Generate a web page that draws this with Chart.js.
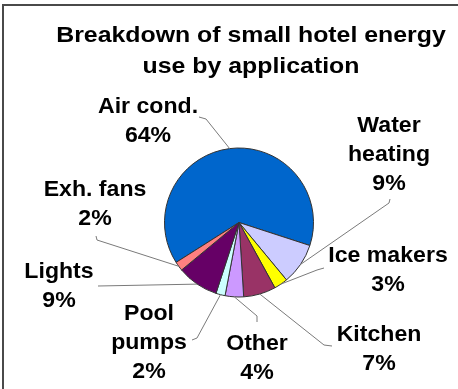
<!DOCTYPE html>
<html>
<head>
<meta charset="utf-8">
<script src="https://cdn.jsdelivr.net/npm/chart.js@4.4.1/dist/chart.umd.min.js"></script>
<style>
  html, body { margin: 0; padding: 0; background: #fff; }
</style>
</head>
<body>
<canvas id="pie" width="458" height="389"></canvas>
<script>
// --- DATA ---
const TITLE_LINES = ['Breakdown of small hotel energy', 'use by application'];
const CATEGORIES = ['Air cond.', 'Water heating', 'Ice makers', 'Kitchen', 'Other', 'Pool pumps', 'Lights', 'Exh. fans'];
const SHARES = [64, 9, 3, 7, 4, 2, 9, 2];
// how each category name is broken over lines in the callouts
const LABEL_LINES = [['Air cond.'], ['Water', 'heating'], ['Ice makers'], ['Kitchen'], ['Other'], ['Pool', 'pumps'], ['Lights'], ['Exh. fans']];

// --- STYLE / LAYOUT ---
const SLICE_COLORS = ['#0066CC', '#CCCCFF', '#FFFF00', '#993366', '#CC99FF', '#CCFFFF', '#660066', '#FF8080'];
const FONT = '"Liberation Sans", Arial, sans-serif';
const LINE_GAP = 29;
// callout text anchor (centre x, first baseline) and the bend points of its leader line
const CALLOUTS = [
    { x: 148, y: 113, bend: [[199, 117], [206, 119]] },
    { x: 389, y: 132, bend: [[390, 199], [389, 203]] },
    { x: 388, y: 262, bend: [[324, 268], [317, 270]] },
    { x: 379, y: 341, bend: [[332, 346], [324, 345]] },
    { x: 257, y: 350, bend: [[257, 322], [257, 316]] },
    { x: 149, y: 320, bend: [[192, 340], [197, 338]] },
    { x: 59,  y: 278, bend: [[98, 286]] },
    { x: 95,  y: 196, bend: [[96, 236], [97, 240]] }
];

// draw text centred at x with a slight horizontal stretch, like the original
const stretchText = (ctx, text, x, y, size, sx) => {
    ctx.save();
    ctx.font = `bold ${size}px ${FONT}`;
    ctx.textAlign = 'center';
    ctx.textBaseline = 'alphabetic';
    ctx.translate(x, y);
    ctx.scale(sx, 1);
    ctx.fillText(text, 0, 0);
    ctx.restore();
};

const calloutPlugin = {
    id: 'callouts',
    afterDraw(chart) {
        const ctx = chart.ctx;
        const arcs = chart.getDatasetMeta(0).data;

        // frame (top and left edges only)
        ctx.save();
        ctx.strokeStyle = '#4a4a4a';
        ctx.lineWidth = 2;
        ctx.beginPath();
        ctx.moveTo(3, 389);
        ctx.lineTo(3, 5);
        ctx.lineTo(458, 5);
        ctx.stroke();
        ctx.restore();

        // title
        ctx.fillStyle = '#000';
        stretchText(ctx, TITLE_LINES[0], 251, 42, 22, 1.13);
        stretchText(ctx, TITLE_LINES[1], 251, 73, 22, 1.13);

        // leader lines from the middle of each slice's rim
        ctx.save();
        ctx.strokeStyle = '#7a7a7a';
        ctx.lineWidth = 1;
        arcs.forEach((arc, i) => {
            const mid = (arc.startAngle + arc.endAngle) / 2;
            const ex = arc.x + Math.cos(mid) * arc.outerRadius;
            const ey = arc.y + Math.sin(mid) * arc.outerRadius;
            const pts = CALLOUTS[i].bend;
            ctx.beginPath();
            ctx.moveTo(pts[0][0], pts[0][1]);
            pts.slice(1).forEach(p => ctx.lineTo(p[0], p[1]));
            ctx.lineTo(ex, ey);
            ctx.stroke();
        });
        ctx.restore();

        // callout text: name lines then percentage
        ctx.fillStyle = '#000';
        CATEGORIES.forEach((cat, i) => {
            const lines = LABEL_LINES[i].concat([SHARES[i] + '%']);
            lines.forEach((ln, k) => {
                stretchText(ctx, ln, CALLOUTS[i].x, CALLOUTS[i].y + k * LINE_GAP, 22, 1.05);
            });
        });
    }
};

new Chart(document.getElementById('pie'), {
    type: 'pie',
    data: {
        labels: CATEGORIES,
        datasets: [{
            data: SHARES,
            backgroundColor: SLICE_COLORS,
            borderColor: '#333333',
            borderWidth: 1
        }]
    },
    options: {
        responsive: false,
        animation: false,
        rotation: 237.6,
        layout: { padding: { left: 164, right: 144, top: 147, bottom: 91 } },
        plugins: {
            legend: { display: false },
            tooltip: { enabled: false },
            title: { display: false }
        }
    },
    plugins: [calloutPlugin]
});
</script>
</body>
</html>
